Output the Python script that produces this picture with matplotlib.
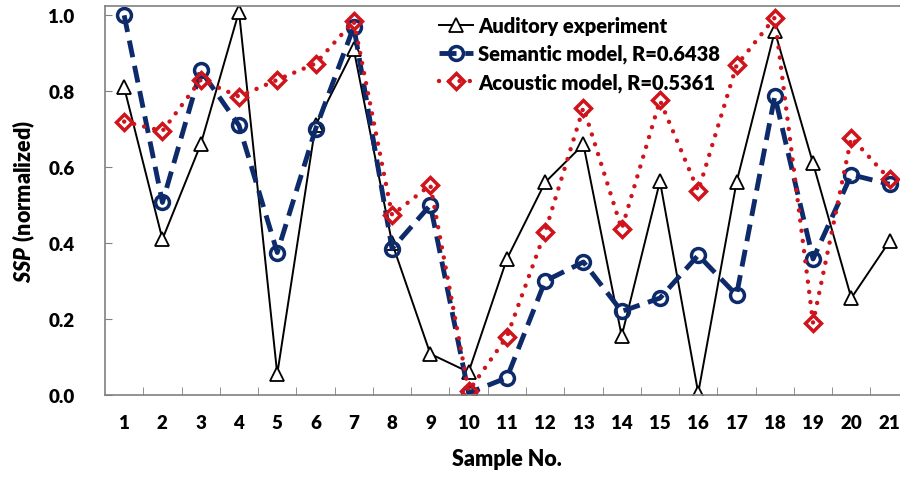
import numpy as np
import matplotlib.pyplot as plt

plt.rcParams['font.family'] = ['Lato', 'DejaVu Sans']
plt.rcParams['font.weight'] = 'heavy'
plt.rcParams['mathtext.fontset'] = 'custom'
plt.rcParams['mathtext.bfit'] = 'Lato:italic:heavy'
plt.rcParams['mathtext.bf'] = 'Lato:heavy'

samples = np.arange(1, 22)
auditory = [0.81, 0.41, 0.66, 1.01, 0.055, 0.71, 0.91, 0.40, 0.108, 0.06, 0.358,
            0.56, 0.66, 0.155, 0.563, 0.005, 0.56, 0.958, 0.61, 0.255, 0.405]
semantic = [1.0, 0.507, 0.855, 0.71, 0.375, 0.70, 0.97, 0.385, 0.50, 0.005, 0.045,
            0.30, 0.35, 0.22, 0.255, 0.368, 0.263, 0.787, 0.358, 0.58, 0.555]
acoustic = [0.72, 0.695, 0.83, 0.786, 0.83, 0.873, 0.985, 0.474, 0.553, 0.01, 0.153,
            0.43, 0.757, 0.437, 0.776, 0.537, 0.868, 0.994, 0.19, 0.678, 0.568]

fig = plt.figure(figsize=(9, 4.81), dpi=100)
ax = fig.add_axes([0.1167, 0.177, 0.893, 0.808])

ax.plot(samples, auditory, color='black', lw=1.4, marker='^', ms=10,
        mfc='white', mec='black', mew=1.3, label='Auditory experiment')
ax.plot(samples, semantic, color='#0d2a6b', lw=3.5, dashes=(3.5, 1.8),
        marker='o', ms=10, mfc='none', mec='#0d2a6b', mew=2.5,
        label='Semantic model, R=0.6438')
ax.plot(samples, acoustic, color='#d0141c', lw=3.2, linestyle=(0, (0.01, 2.3)),
        dash_capstyle='round', marker='D', ms=8, mfc='none', mec='#d0141c',
        mew=2.5, label='Acoustic model, R=0.5361')

ax.set_xlim(0.5, 21.5)
ax.set_ylim(0, 1.024)
ax.set_xticks(samples)
ax.set_xticks(np.arange(1.5, 21.5, 1), minor=True)
ax.set_yticks(np.arange(0, 1.01, 0.2))
ax.set_yticklabels(['%.1f' % v for v in np.arange(0, 1.01, 0.2)])
ax.tick_params(axis='x', which='major', length=0, pad=14, labelsize=13.5)
ax.tick_params(axis='x', which='minor', direction='in', length=6, color='#808080')
ax.tick_params(axis='y', direction='in', length=5, color='#808080', pad=22, labelsize=13.5)

for s in ['left', 'bottom', 'top', 'right']:
    ax.spines[s].set_color('#808080')
    ax.spines[s].set_linewidth(1.2)

ax.set_xlabel('Sample No.', fontsize=15.5, fontweight='heavy', labelpad=12)
ax.set_ylabel(r'$\mathbfit{SSP}\;\mathbf{(normalized)}$', fontsize=15.5, labelpad=8)

ax.legend(loc='upper left', bbox_to_anchor=(0.393, 1.022), frameon=False,
          fontsize=14.5, handlelength=1.7, handletextpad=0.25, labelspacing=0.45)

plt.savefig('out.png', dpi=100)
